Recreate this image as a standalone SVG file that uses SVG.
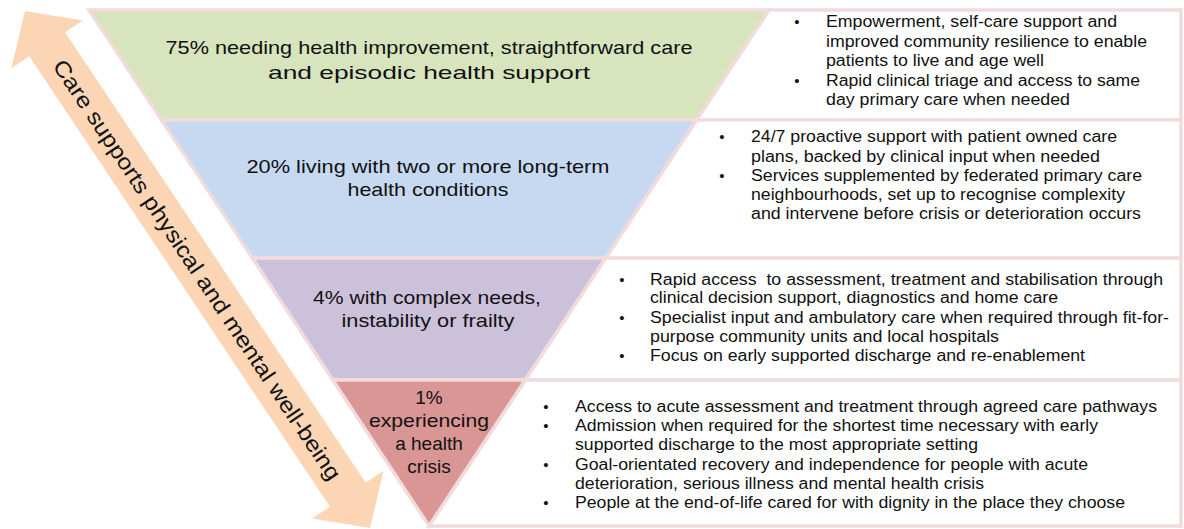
<svg xmlns="http://www.w3.org/2000/svg" width="1184" height="529" viewBox="0 0 1184 529">
<style>
.box{fill:#ffffff;stroke:#f2dcdb;stroke-width:3.5;stroke-linejoin:miter}
.band{stroke:#f2dcdb;stroke-width:3.5;stroke-linejoin:miter}
.c{font-family:"Liberation Sans",Arial,sans-serif;font-size:19px;fill:#111111;text-anchor:middle}
.r{font-family:"Liberation Sans",Arial,sans-serif;font-size:16px;fill:#111111}
.b{font-family:"Liberation Sans",Arial,sans-serif;font-size:15px;fill:#111111;text-anchor:middle}
.arr{font-family:"Liberation Sans",Arial,sans-serif;font-size:22px;fill:#111111;text-anchor:middle}
</style>
<rect x="0" y="0" width="1184" height="529" fill="#ffffff"/>

<g id="arrow" transform="translate(197.5,269.5) rotate(56.28)">
<polygon points="-310.8,0 -270.8,-43 -270.8,-21.5 270.8,-21.5 270.8,-43 310.8,0 270.8,43 270.8,21.5 -270.8,21.5 -270.8,43" fill="#fcd5b5"/>
<text class="arr" x="0" y="8" textLength="500" lengthAdjust="spacingAndGlyphs">Care supports physical and mental well-being</text>
</g>

<g id="band1">
<polygon class="box" points="769,10 1181,10 1181,120 696.5,120"/>
<polygon class="band" fill="#d7e4bd" points="89,10 769,10 696.5,120 161.5,120"/>
<text class="c" x="429" y="54" textLength="527" lengthAdjust="spacingAndGlyphs">75% needing health improvement, straightforward care</text>
<text class="c" x="429" y="79" textLength="322" lengthAdjust="spacingAndGlyphs">and episodic health support</text>
<text class="b" x="797" y="27">•</text>
<text class="r" x="826" y="27" textLength="291" lengthAdjust="spacingAndGlyphs">Empowerment, self-care support and</text>
<text class="r" x="826" y="47" textLength="321" lengthAdjust="spacingAndGlyphs">improved community resilience to enable</text>
<text class="r" x="826" y="66" textLength="218" lengthAdjust="spacingAndGlyphs">patients to live and age well</text>
<text class="b" x="797" y="86">•</text>
<text class="r" x="826" y="86" textLength="314" lengthAdjust="spacingAndGlyphs">Rapid clinical triage and access to same</text>
<text class="r" x="826" y="105" textLength="244" lengthAdjust="spacingAndGlyphs">day primary care when needed</text>
</g>

<g id="band2">
<polygon class="box" points="696.5,120 1181,120 1181,258 605.6,258"/>
<polygon class="band" fill="#c6d9f1" points="161.5,120 696.5,120 605.6,258 252.4,258"/>
<text class="c" x="428" y="173" textLength="363" lengthAdjust="spacingAndGlyphs">20% living with two or more long-term</text>
<text class="c" x="428" y="196" textLength="161" lengthAdjust="spacingAndGlyphs">health conditions</text>
<text class="b" x="722" y="142">•</text>
<text class="r" x="751" y="142" textLength="366" lengthAdjust="spacingAndGlyphs">24/7 proactive support with patient owned care</text>
<text class="r" x="751" y="162" textLength="349" lengthAdjust="spacingAndGlyphs">plans, backed by clinical input when needed</text>
<text class="b" x="722" y="181">•</text>
<text class="r" x="751" y="181" textLength="391" lengthAdjust="spacingAndGlyphs">Services supplemented by federated primary care</text>
<text class="r" x="751" y="200" textLength="374" lengthAdjust="spacingAndGlyphs">neighbourhoods, set up to recognise complexity</text>
<text class="r" x="751" y="219" textLength="390" lengthAdjust="spacingAndGlyphs">and intervene before crisis or deterioration occurs</text>
</g>

<g id="band3">
<polygon class="box" points="605.6,258 1181,258 1181,380 525.2,380"/>
<polygon class="band" fill="#ccc1da" points="252.4,258 605.6,258 525.2,380 332.8,380"/>
<text class="c" x="427" y="304" textLength="228" lengthAdjust="spacingAndGlyphs">4% with complex needs,</text>
<text class="c" x="428" y="327" textLength="173" lengthAdjust="spacingAndGlyphs">instability or frailty</text>
<text class="b" x="622" y="285">•</text>
<text class="r" x="650" y="285" textLength="513" lengthAdjust="spacingAndGlyphs" xml:space="preserve">Rapid access  to assessment, treatment and stabilisation through</text>
<text class="r" x="650" y="303" textLength="408" lengthAdjust="spacingAndGlyphs">clinical decision support, diagnostics and home care</text>
<text class="b" x="622" y="323">•</text>
<text class="r" x="650" y="323" textLength="519" lengthAdjust="spacingAndGlyphs">Specialist input and ambulatory care when required through fit-for-</text>
<text class="r" x="650" y="342" textLength="349" lengthAdjust="spacingAndGlyphs">purpose community units and local hospitals</text>
<text class="b" x="622" y="361">•</text>
<text class="r" x="650" y="361" textLength="435" lengthAdjust="spacingAndGlyphs">Focus on early supported discharge and re-enablement</text>
</g>

<g id="band4">
<polygon class="box" points="525.2,380 1181,380 1181,526 429,526"/>
<polygon class="band" fill="#d99694" points="332.8,380 525.2,380 429,526"/>
<text class="c" x="429" y="404">1%</text>
<text class="c" x="429" y="427" textLength="120" lengthAdjust="spacingAndGlyphs">experiencing</text>
<text class="c" x="429" y="450">a health</text>
<text class="c" x="429" y="473">crisis</text>
<text class="b" x="546" y="412">•</text>
<text class="r" x="575" y="412" textLength="582" lengthAdjust="spacingAndGlyphs">Access to acute assessment and treatment through agreed care pathways</text>
<text class="b" x="546" y="431">•</text>
<text class="r" x="575" y="431" textLength="523" lengthAdjust="spacingAndGlyphs">Admission when required for the shortest time necessary with early</text>
<text class="r" x="575" y="450" textLength="403" lengthAdjust="spacingAndGlyphs">supported discharge to the most appropriate setting</text>
<text class="b" x="546" y="470">•</text>
<text class="r" x="575" y="470" textLength="513" lengthAdjust="spacingAndGlyphs">Goal-orientated recovery and independence for people with acute</text>
<text class="r" x="575" y="489" textLength="409" lengthAdjust="spacingAndGlyphs">deterioration, serious illness and mental health crisis</text>
<text class="b" x="546" y="508">•</text>
<text class="r" x="575" y="508" textLength="550" lengthAdjust="spacingAndGlyphs">People at the end-of-life cared for with dignity in the place they choose</text>
</g>
</svg>
